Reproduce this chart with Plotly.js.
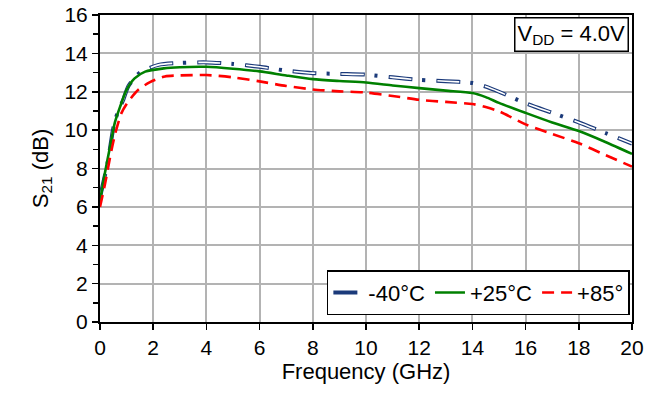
<!DOCTYPE html>
<html>
<head>
<meta charset="utf-8">
<script src="https://cdn.plot.ly/plotly-3.0.1.min.js"></script>
<style>html,body{margin:0;padding:0;background:#fff;}#chart{width:659px;height:394px;}</style>
</head>
<body>
<div id="chart"></div>
<script>
// Series names
const seriesNames = ["-40°C", "+25°C", "+85°"];

// -40°C
const freqM40 = [0, 0.3, 0.5, 0.66, 0.88, 1.07, 1.5, 2.2, 3, 4, 5, 6, 7, 8, 9, 10, 11, 12, 13, 14, 14.5, 15, 16, 17, 18, 19, 20];
const s21M40  = [6.5, 8.4, 10.1, 10.9, 11.6, 12.3, 13.0, 13.4, 13.5, 13.53, 13.45, 13.3, 13.1, 12.97, 12.93, 12.89, 12.75, 12.62, 12.55, 12.46, 12.27, 12.0, 11.4, 10.9, 10.4, 9.85, 9.3];

// +25°C
const freqP25 = [0, 0.19, 0.38, 0.56, 0.75, 1.0, 1.3, 1.7, 2.4, 3, 4, 5, 6, 7, 8, 9, 10, 11, 12, 13, 14, 14.5, 15, 16, 17, 18, 19, 20];
const s21P25  = [6.3, 7.8, 9.15, 10.4, 11.2, 12.1, 12.7, 13.05, 13.22, 13.28, 13.3, 13.2, 13.06, 12.85, 12.66, 12.56, 12.48, 12.33, 12.19, 12.06, 11.93, 11.72, 11.42, 10.9, 10.4, 9.95, 9.38, 8.76];

// +85°C
const freqP85 = [0, 0.19, 0.38, 0.56, 0.81, 1.07, 1.44, 1.88, 2.44, 3, 4, 5, 6, 7, 8, 9, 10, 11, 12, 13, 14, 14.5, 15, 16, 17, 18, 19, 20];
const s21P85  = [6.0, 7.2, 8.6, 9.75, 10.9, 11.5, 12.1, 12.5, 12.8, 12.85, 12.87, 12.75, 12.54, 12.3, 12.12, 12.02, 11.96, 11.78, 11.58, 11.47, 11.36, 11.2, 10.98, 10.3, 9.8, 9.32, 8.7, 8.1];

// Axis ticks
const xTicks = [0, 2, 4, 6, 8, 10, 12, 14, 16, 18, 20];
const yTicks = [0, 2, 4, 6, 8, 10, 12, 14, 16];

const FONT = "Liberation Sans, Arial, sans-serif";

const traces = [
  {x: freqM40, y: s21M40, name: seriesNames[0], mode: "lines", line: {shape: "spline", smoothing: 0.7, color: "#1b3a7a", width: 4, dash: "24px,10px,3px,11px"}},
  {x: freqM40, y: s21M40, name: seriesNames[0], mode: "lines", showlegend: false, hoverinfo: "skip", line: {shape: "spline", smoothing: 0.7, color: "#ffffff", width: 1.6, dash: "0px,1px,22px,25px"}},
  {x: freqP25, y: s21P25, name: seriesNames[1], mode: "lines", line: {shape: "spline", smoothing: 0.7, color: "#008000", width: 2.6}},
  {x: freqP85, y: s21P85, name: seriesNames[2], mode: "lines", line: {shape: "spline", smoothing: 0.7, color: "#ff0000", width: 2.6, dash: "12px,7px"}}
];

const layout = {
  width: 659, height: 394,
  margin: {l: 100, r: 27, t: 15, b: 72},
  paper_bgcolor: "#fff", plot_bgcolor: "#fff",
  font: {family: FONT, size: 21, color: "#000"},
  showlegend: true,
  legend: {
    orientation: "h", x: 0.996, xanchor: "right", y: 0.022, yanchor: "bottom",
    bgcolor: "#fff", bordercolor: "#000", borderwidth: 1.5,
    font: {family: FONT, size: 22, color: "#000"},
    traceorder: "normal", itemwidth: 30, tracegroupgap: 0
  },
  xaxis: {
    range: [0, 20], tickvals: xTicks, ticktext: xTicks.map(String),
    showgrid: true, gridcolor: "#b3b3b3", gridwidth: 2,
    showline: true, linecolor: "#000", linewidth: 2, mirror: true,
    ticks: "outside", ticklen: 6, tickwidth: 1.5, tickcolor: "#000",
    zeroline: false,
    title: {text: "Frequency (GHz)", font: {family: FONT, size: 22}, standoff: 2},
    tickfont: {family: FONT, size: 21}
  },
  yaxis: {
    range: [0, 16], tickvals: yTicks, ticktext: yTicks.map(String),
    showgrid: true, gridcolor: "#b3b3b3", gridwidth: 2,
    showline: true, linecolor: "#000", linewidth: 2, mirror: true,
    ticks: "outside", ticklen: 6, tickwidth: 1.5, tickcolor: "#000",
    minor: {ticks: "outside", dtick: 1, tick0: 1, ticklen: 5, tickwidth: 1.5, tickcolor: "#000", showgrid: false},
    zeroline: false,
    title: {text: "S<sub>21</sub> (dB)", font: {family: FONT, size: 22}, standoff: 10},
    tickfont: {family: FONT, size: 21}
  },
  annotations: [{
    xref: "paper", yref: "paper", x: 0.994, y: 0.993, xanchor: "right", yanchor: "top",
    text: "V<sub>DD</sub> = 4.0V", showarrow: false,
    font: {family: FONT, size: 22, color: "#000"},
    bgcolor: "#fff", bordercolor: "#000", borderwidth: 1.5, borderpad: 2
  }]
};

Plotly.newPlot("chart", traces, layout, {displayModeBar: false, staticPlot: true});
</script>
</body>
</html>
